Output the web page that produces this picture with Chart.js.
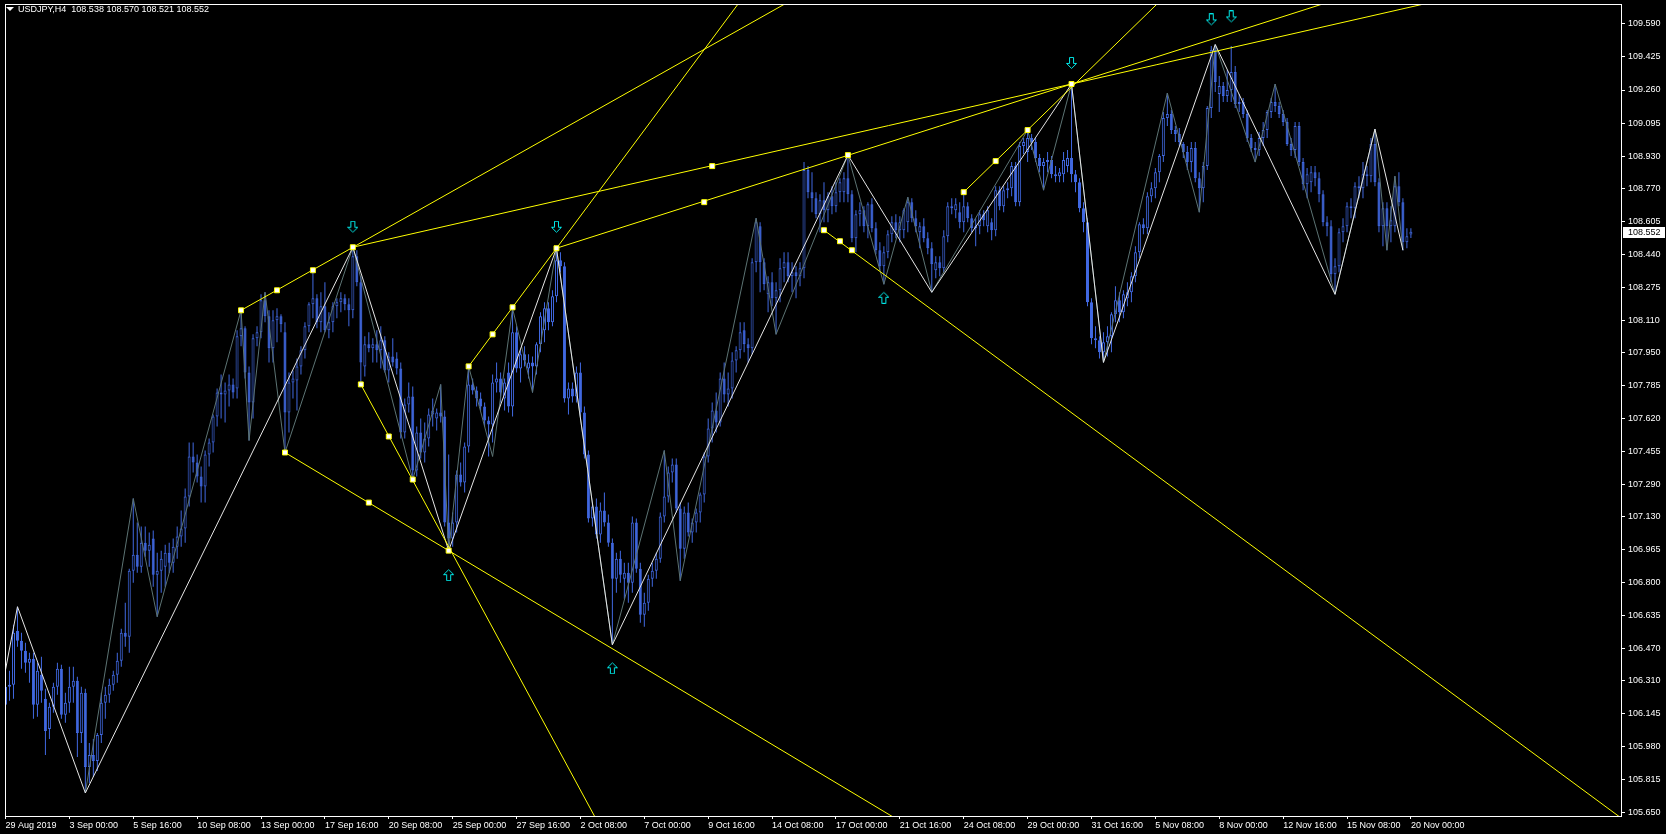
<!DOCTYPE html>
<html lang="en">
<head>
    <meta charset="UTF-8">
    <title>USDJPY,H4</title>
    <script src="https://cdn.jsdelivr.net/npm/chart.js"></script>
    <style>
        body { margin: 0; background: #000; }
        .wrap { position: relative; width: 1666px; height: 834px; }
        .hdr {
            position: absolute; left: 6px; top: 4px;
            color: #fff; font: 9px 'Liberation Sans', Arial, sans-serif;
            line-height: 11px; white-space: pre;
        }
        .hdr .tri {
            display: inline-block; width: 0; height: 0;
            border-left: 4px solid transparent; border-right: 4px solid transparent;
            border-top: 4px solid #fff; margin-right: 4px; vertical-align: 1px;
        }
    </style>
</head>
<body>
<div class="wrap">
    <canvas id="chart" width="1666" height="834"></canvas>
    <div class="hdr" id="hdr"></div>
</div>

<script>
    const symbolTitle = 'USDJPY,H4';

    // H4 bars, one row per bar: open, high, low, close
    const ohlc = [
        [106.19,106.38,105.87,106.28],[106.28,106.36,106.21,106.29],[106.29,106.59,106.22,106.55],[106.56,106.68,106.48,106.51],[106.51,106.55,106.37,106.46],[106.46,106.50,106.35,106.40],[106.40,106.45,106.30,106.42],[106.42,106.45,106.12,106.19],[106.19,106.40,106.13,106.36],[106.34,106.43,106.20,106.26],
        [106.22,106.27,105.94,106.06],[106.07,106.20,106.02,106.18],[106.18,106.30,106.15,106.28],[106.28,106.40,106.24,106.37],[106.37,106.39,106.12,106.14],[106.14,106.25,106.10,106.20],[106.20,106.38,106.15,106.28],[106.28,106.38,106.20,106.31],[106.31,106.33,105.93,106.05],[106.05,106.28,106.00,106.25],
        [106.25,106.27,105.75,105.88],[105.88,106.00,105.80,105.94],[105.94,106.02,105.83,105.91],[105.91,106.05,105.86,106.04],[106.04,106.25,106.00,106.20],[106.20,106.28,106.12,106.24],[106.24,106.32,106.20,106.29],[106.29,106.36,106.26,106.34],[106.34,106.45,106.30,106.41],[106.41,106.57,106.38,106.55],
        [106.55,106.70,106.48,106.53],[106.53,106.87,106.45,106.86],[106.86,107.22,106.80,106.94],[106.94,107.10,106.85,106.88],[106.88,107.08,106.85,107.00],[107.00,107.08,106.93,106.96],[106.96,107.05,106.88,106.99],[107.02,107.06,106.78,106.84],[106.84,106.95,106.63,106.86],[106.86,106.96,106.75,106.92],
        [106.88,106.99,106.78,106.95],[106.95,107.00,106.85,106.90],[106.90,107.02,106.85,106.98],[106.98,107.08,106.92,107.03],[107.03,107.16,106.98,107.07],[107.07,107.27,107.00,107.23],[107.23,107.50,107.18,107.43],[107.43,107.50,107.35,107.40],[107.40,107.44,107.30,107.33],[107.33,107.38,107.20,107.28],
        [107.28,107.46,107.20,107.44],[107.44,107.52,107.38,107.50],[107.50,107.64,107.45,107.63],[107.63,107.77,107.58,107.75],[107.75,107.84,107.62,107.74],[107.74,107.80,107.60,107.76],[107.76,107.84,107.68,107.79],[107.79,107.82,107.72,107.75],[107.77,108.06,107.72,108.03],[108.03,108.16,107.98,108.07],
        [108.07,108.08,107.82,107.85],[107.85,107.88,107.51,107.70],[107.70,108.04,107.62,108.02],[108.02,108.08,107.98,108.05],[108.05,108.24,108.02,108.21],[108.21,108.25,108.10,108.13],[108.13,108.16,107.90,107.97],[107.97,108.16,107.90,108.11],[108.11,108.17,108.00,108.13],[108.13,108.14,108.05,108.09],
        [108.05,108.10,107.45,107.65],[107.65,107.85,107.55,107.80],[107.80,107.86,107.72,107.82],[107.81,107.92,107.66,107.88],[107.88,107.98,107.84,107.96],[107.96,108.10,107.92,108.08],[108.08,108.20,108.05,108.19],[108.19,108.36,108.12,108.22],[108.22,108.24,108.07,108.10],[108.10,108.25,108.05,108.18],
        [108.18,108.30,108.05,108.06],[108.06,108.15,108.02,108.10],[108.10,108.20,108.05,108.18],[108.18,108.22,108.12,108.20],[108.20,108.25,108.15,108.22],[108.22,108.24,108.16,108.19],[108.19,108.22,108.08,108.16],[108.16,108.475,108.12,108.43],[108.43,108.46,108.28,108.30],[108.30,108.33,107.79,107.90],
        [107.88,108.03,107.83,107.99],[107.99,108.05,107.95,107.97],[107.97,108.02,107.90,107.99],[107.99,108.06,107.90,107.96],[107.96,108.08,107.87,108.01],[108.01,108.03,107.85,107.86],[107.86,107.95,107.80,107.93],[107.93,108.02,107.88,107.90],[107.92,107.95,107.84,107.87],[107.87,107.90,107.52,107.55],
        [107.55,107.72,107.52,107.69],[107.69,107.80,107.65,107.73],[107.73,107.78,107.315,107.36],[107.36,107.58,107.33,107.55],[107.55,107.62,107.42,107.45],[107.45,107.60,107.40,107.52],[107.52,107.67,107.48,107.64],[107.64,107.72,107.58,107.66],[107.62,107.67,107.56,107.65],[107.65,107.79,107.60,107.63],
        [107.63,107.66,107.08,107.10],[107.10,107.44,106.96,107.02],[107.02,107.15,106.98,107.10],[107.10,107.36,107.05,107.34],[107.34,107.40,107.28,107.30],[107.30,107.50,107.25,107.48],[107.48,107.88,107.45,107.79],[107.79,107.82,107.74,107.76],[107.76,107.78,107.68,107.72],[107.72,107.75,107.66,107.68],
        [107.68,107.70,107.58,107.61],[107.61,107.63,107.43,107.59],[107.59,107.84,107.50,107.80],[107.80,107.90,107.75,107.82],[107.82,107.85,107.70,107.75],[107.72,107.82,107.66,107.80],[107.85,107.90,107.65,107.68],[107.68,108.17,107.63,108.05],[108.05,108.08,107.85,107.87],[107.87,107.96,107.80,107.94],
        [107.94,107.98,107.88,107.91],[107.87,107.94,107.82,107.90],[107.90,107.93,107.75,107.88],[107.88,108.00,107.84,107.99],[107.99,108.15,107.95,108.13],[108.06,108.20,108.00,108.17],[108.17,108.20,108.06,108.10],[108.10,108.26,108.08,108.23],[108.23,108.47,108.20,108.41],[108.41,108.45,108.35,108.38],
        [108.38,108.40,107.70,107.72],[107.72,107.80,107.64,107.77],[107.77,107.80,107.70,107.73],[107.73,107.88,107.70,107.85],[107.85,107.90,107.63,107.65],[107.65,107.68,107.42,107.44],[107.44,107.46,107.10,107.12],[107.12,107.20,107.08,107.18],[107.18,107.22,107.02,107.04],[107.04,107.20,107.00,107.16],
        [107.16,107.25,107.08,107.10],[107.10,107.14,106.98,107.00],[107.00,107.02,106.49,106.82],[106.82,106.95,106.75,106.92],[106.92,106.96,106.80,106.84],[106.82,106.90,106.72,106.85],[106.85,106.90,106.70,106.80],[106.80,107.13,106.75,107.10],[107.10,107.12,106.85,106.87],[106.87,106.90,106.60,106.64],
        [106.64,106.75,106.58,106.70],[106.70,106.84,106.66,106.82],[106.82,106.90,106.78,106.86],[106.86,106.95,106.82,106.92],[106.92,107.15,106.90,107.13],[107.13,107.46,107.10,107.23],[107.23,107.38,107.20,107.35],[107.35,107.42,107.30,107.39],[107.39,107.42,107.15,107.17],[107.17,107.20,106.81,106.97],
        [106.97,107.18,106.92,107.15],[107.15,107.20,107.03,107.05],[107.05,107.12,107.00,107.10],[107.10,107.17,107.05,107.15],[107.15,107.25,107.10,107.24],[107.24,107.45,107.20,107.43],[107.43,107.62,107.40,107.57],[107.57,107.70,107.50,107.66],[107.66,107.75,107.55,107.60],[107.60,107.85,107.58,107.82],
        [107.82,107.90,107.70,107.74],[107.74,107.85,107.68,107.77],[107.77,107.95,107.72,107.91],[107.91,107.98,107.85,107.96],[107.96,108.10,107.92,108.05],[108.06,108.10,107.95,107.99],[107.99,108.02,107.90,107.97],[107.97,108.42,107.94,108.40],[108.40,108.62,108.35,108.60],[108.58,108.60,108.25,108.40],
        [108.40,108.42,108.26,108.29],[108.24,108.33,108.15,108.30],[108.30,108.35,108.18,108.22],[108.22,108.30,108.04,108.26],[108.26,108.42,108.20,108.37],[108.37,108.45,108.30,108.40],[108.40,108.45,108.30,108.33],[108.33,108.40,108.25,108.35],[108.35,108.38,108.22,108.33],[108.33,108.40,108.28,108.37],
        [108.37,108.90,108.32,108.86],[108.86,108.88,108.72,108.75],[108.75,108.85,108.65,108.72],[108.72,108.75,108.62,108.64],[108.64,108.74,108.55,108.71],[108.71,108.80,108.60,108.66],[108.66,108.75,108.60,108.73],[108.73,108.78,108.64,108.68],[108.68,108.80,108.65,108.75],[108.75,108.82,108.70,108.80],
        [108.75,108.85,108.70,108.82],[108.82,108.935,108.70,108.74],[108.74,108.76,108.50,108.52],[108.52,108.66,108.45,108.64],[108.64,108.70,108.58,108.66],[108.66,108.68,108.55,108.58],[108.58,108.70,108.52,108.69],[108.69,108.72,108.55,108.57],[108.57,108.60,108.44,108.46],[108.46,108.50,108.36,108.38],
        [108.38,108.48,108.29,108.45],[108.45,108.56,108.42,108.54],[108.54,108.63,108.50,108.60],[108.60,108.64,108.52,108.56],[108.56,108.63,108.50,108.60],[108.56,108.67,108.52,108.66],[108.60,108.725,108.55,108.70],[108.70,108.72,108.60,108.62],[108.62,108.66,108.55,108.58],[108.55,108.60,108.47,108.58],
        [108.58,108.62,108.50,108.52],[108.52,108.55,108.44,108.47],[108.47,108.50,108.25,108.39],[108.36,108.43,108.32,108.40],[108.40,108.43,108.33,108.37],[108.37,108.56,108.35,108.53],[108.53,108.70,108.50,108.68],[108.68,108.72,108.64,108.67],[108.66,108.72,108.62,108.69],[108.65,108.70,108.57,108.60],
        [108.60,108.75,108.55,108.68],[108.68,108.70,108.60,108.62],[108.62,108.64,108.55,108.57],[108.57,108.62,108.48,108.58],[108.58,108.66,108.54,108.64],[108.64,108.66,108.58,108.61],[108.58,108.68,108.55,108.66],[108.60,108.62,108.51,108.56],[108.56,108.78,108.53,108.76],[108.76,108.78,108.66,108.68],
        [108.68,108.78,108.65,108.76],[108.76,108.80,108.72,108.77],[108.77,108.90,108.73,108.88],[108.88,108.90,108.68,108.70],[108.70,109.00,108.68,108.98],[108.98,109.02,108.94,109.00],[108.95,109.06,108.90,109.02],[109.02,109.04,108.96,109.00],[109.00,109.02,108.90,108.92],[108.92,108.94,108.85,108.88],
        [108.88,108.92,108.76,108.90],[108.90,108.95,108.85,108.91],[108.91,108.93,108.82,108.84],[108.84,108.88,108.80,108.83],[108.83,108.87,108.80,108.85],[108.84,108.95,108.80,108.91],[108.88,108.96,108.85,108.92],[108.92,109.29,108.80,108.84],[108.84,108.86,108.75,108.80],[108.80,108.82,108.65,108.67],
        [108.67,108.70,108.55,108.60],[108.60,108.62,108.18,108.20],[108.20,108.22,107.99,108.02],[108.02,108.08,107.97,108.01],[108.01,108.03,107.92,107.95],[107.95,108.05,107.90,108.00],[108.00,108.08,107.93,108.03],[108.03,108.15,107.95,108.14],[108.14,108.28,108.10,108.21],[108.21,108.25,108.10,108.15],
        [108.15,108.26,108.12,108.24],[108.22,108.30,108.18,108.25],[108.25,108.35,108.20,108.33],[108.33,108.48,108.30,108.45],[108.45,108.60,108.42,108.59],[108.59,108.62,108.54,108.57],[108.57,108.75,108.54,108.73],[108.73,108.80,108.70,108.77],[108.77,108.87,108.72,108.85],[108.85,108.94,108.80,108.93],
        [108.93,109.15,108.90,109.12],[109.12,109.245,109.08,109.14],[109.14,109.16,109.04,109.06],[109.06,109.08,109.00,109.04],[109.04,109.07,108.98,109.00],[108.99,109.00,108.92,108.95],[108.95,108.98,108.86,108.90],[108.90,109.00,108.85,108.97],[108.97,109.00,108.80,108.82],[108.82,108.85,108.65,108.77],
        [108.77,108.90,108.70,108.88],[108.88,109.18,108.86,109.17],[109.17,109.48,109.12,109.46],[109.46,109.487,109.25,109.30],[109.24,109.33,109.15,109.28],[109.28,109.30,109.20,109.23],[109.23,109.36,109.20,109.26],[109.26,109.48,109.20,109.35],[109.35,109.38,109.17,109.19],[109.19,109.24,109.15,109.20],
        [109.20,109.22,109.12,109.14],[109.14,109.16,109.00,109.02],[109.02,109.04,108.95,108.97],[108.97,109.00,108.90,108.96],[108.96,109.05,108.93,109.02],[109.02,109.10,108.98,109.06],[109.06,109.16,109.02,109.15],[109.15,109.22,109.12,109.20],[109.20,109.29,109.15,109.18],[109.18,109.20,109.12,109.14],
        [109.14,109.16,109.08,109.10],[109.10,109.12,108.98,108.99],[108.99,109.02,108.93,108.96],[108.96,109.10,108.92,109.08],[109.08,109.10,108.88,108.90],[108.90,108.92,108.76,108.79],[108.79,108.87,108.72,108.84],[108.80,108.88,108.75,108.85],[108.85,108.88,108.78,108.82],[108.82,108.85,108.70,108.74],
        [108.74,108.76,108.58,108.60],[108.60,108.63,108.53,108.58],[108.58,108.61,108.30,108.34],[108.34,108.42,108.24,108.38],[108.38,108.57,108.35,108.55],[108.55,108.62,108.50,108.58],[108.58,108.70,108.55,108.68],[108.68,108.72,108.62,108.67],[108.67,108.80,108.62,108.78],[108.78,108.83,108.72,108.77],
        [108.77,108.90,108.72,108.84],[108.84,108.88,108.78,108.83],[108.83,109.02,108.80,108.99],[108.99,109.065,108.78,108.80],[108.80,108.82,108.55,108.58],[108.58,108.70,108.48,108.67],[108.67,108.70,108.46,108.58],[108.58,108.68,108.50,108.61],[108.58,108.83,108.55,108.78],[108.78,108.85,108.68,108.70],
        [108.70,108.72,108.46,108.50],[108.50,108.57,108.47,108.53],[108.538,108.570,108.521,108.552]
    ];

    const timeTickBars = [0,16,32,48,64,80,96,112,128,144,160,176,192,208,224,240,256,272,288,304,320,336,352];
    const timeLabels = ['29 Aug 2019','3 Sep 00:00','5 Sep 16:00','10 Sep 08:00','13 Sep 00:00','17 Sep 16:00','20 Sep 08:00',
        '25 Sep 00:00','27 Sep 16:00','2 Oct 08:00','7 Oct 00:00','9 Oct 16:00','14 Oct 08:00','17 Oct 00:00','21 Oct 16:00',
        '24 Oct 08:00','29 Oct 00:00','31 Oct 16:00','5 Nov 08:00','8 Nov 00:00','12 Nov 16:00','15 Nov 08:00','20 Nov 00:00'];
    const priceTicks = [109.590,109.425,109.260,109.095,108.930,108.770,108.605,108.440,108.275,108.110,107.950,107.785,107.620,
        107.455,107.290,107.130,106.965,106.800,106.635,106.470,106.310,106.145,105.980,105.815,105.650];

    // zigzag swing points (bar index, price)
    const zigzagMajorBars = [-3,3,20,87,111,138,152,211,232,267,275,303,333,343,350];
    const zigzagMajorPrices = [106.05,106.68,105.75,108.475,106.96,108.47,106.49,108.935,108.25,109.29,107.90,109.487,108.24,109.065,108.46];
    const zigzagMinorBars = [20,32,38,59,61,65,70,87,102,109,111,116,122,127,132,138,152,165,169,188,193,211,220,226,232,256,260,267,275,291,299,303,313,318,333,343,346,348,350];
    const zigzagMinorPrices = [105.75,107.22,106.63,108.16,107.51,108.25,107.45,108.475,107.315,107.79,106.96,107.88,107.43,108.17,107.75,108.47,106.49,107.46,106.81,108.62,108.04,108.935,108.29,108.725,108.25,109.06,108.76,109.29,107.90,109.245,108.65,109.487,108.90,109.29,108.24,109.065,108.46,108.83,108.46];

    // trend lines: start bar, start price, end bar, end price
    const trendLines = [
        [59,108.16,197,109.71],
        [87,108.475,362,109.72],
        [138,108.47,332,109.703],
        [116,107.88,185,109.73],
        [89,107.79,149,105.58],
        [70,107.45,224,105.61],
        [205,108.56,405,105.62],
        [240,108.75,290,109.72]
    ];
    const markerBars = [59,68,77,87,70,91,89,96,102,111,116,122,127,138,175,177,205,209,212,211,240,248,256,267];
    const markerPrices = [108.16,108.26,108.36,108.475,107.45,107.20,107.79,107.53,107.315,106.96,107.88,108.04,108.175,108.47,108.70,108.88,108.56,108.505,108.46,108.935,108.75,108.905,109.06,109.29];

    const arrowDownBars = [87,138,267,302,307];
    const arrowDownPrices = [108.575,108.575,109.393,109.61,109.625];
    const arrowUpBars = [111,152,220];
    const arrowUpPrices = [106.84,106.375,108.225];

    const BLUE = '#4169e1';
    const YELLOW = '#ffff00';

    const last = ohlc[ohlc.length - 1];
    document.getElementById('hdr').innerHTML =
        '<span class="tri"></span>' + symbolTitle + '  ' + last.map(v => v.toFixed(3)).join(' ');

    const pts = (xs, ys) => xs.map((x, i) => ({ x: x, y: ys[i] }));
    const wicks = ohlc.map((b, i) => ({ x: i, y: [b[2], b[1]] }));
    const bodies = ohlc.map((b, i) => ({ x: i, y: [Math.min(b[0], b[3]), Math.max(b[0], b[3])] }));
    const bodyFill = ohlc.map(b => b[3] >= b[0] ? '#000000' : BLUE);
    const trendData = [];
    trendLines.forEach(t => {
        trendData.push({ x: t[0], y: t[1] }, { x: t[2], y: t[3] }, { x: t[2], y: null });
    });

    function arrowImage(down) {
        const c = document.createElement('canvas');
        c.width = 11; c.height = 13;
        const g = c.getContext('2d');
        if (!down) { g.translate(0, 13); g.scale(1, -1); }
        g.beginPath();
        g.moveTo(3.5, 0.5); g.lineTo(7.5, 0.5); g.lineTo(7.5, 6.5); g.lineTo(10.5, 6.5);
        g.lineTo(5.5, 11.5); g.lineTo(0.5, 6.5); g.lineTo(3.5, 6.5); g.closePath();
        g.fillStyle = '#000'; g.fill();
        g.strokeStyle = '#00e8e8'; g.lineWidth = 1; g.stroke();
        return c;
    }

    // white frame round the plot and the current price tag
    const frame = {
        id: 'frame',
        afterDraw(chart) {
            const { ctx, chartArea: a } = chart;
            ctx.save();
            ctx.strokeStyle = '#ffffff';
            ctx.lineWidth = 1;
            ctx.strokeRect(a.left + 0.5, a.top - 0.5, a.right - a.left - 1, a.bottom - a.top + 1);
            const y = Math.round(chart.scales.y.getPixelForValue(last[3]));
            ctx.fillStyle = '#ffffff';
            ctx.fillRect(a.right + 1, y - 5, 42, 11);
            ctx.fillStyle = '#000000';
            ctx.font = "9px 'Liberation Sans', Arial, sans-serif";
            ctx.textBaseline = 'middle';
            ctx.fillText(last[3].toFixed(3), a.right + 6, y + 0.5);
            ctx.restore();
        }
    };

    Chart.defaults.font.family = "'Liberation Sans', Arial, sans-serif";
    Chart.defaults.font.size = 9;
    Chart.defaults.color = '#ffffff';

    new Chart(document.getElementById('chart'), {
        type: 'bar',
        data: {
            datasets: [
                { type: 'line', data: pts(arrowDownBars, arrowDownPrices), showLine: false, pointStyle: arrowImage(true), pointRadius: 3, order: 0 },
                { type: 'line', data: pts(arrowUpBars, arrowUpPrices), showLine: false, pointStyle: arrowImage(false), pointRadius: 3, order: 0 },
                { type: 'line', data: pts(markerBars, markerPrices), showLine: false, pointStyle: 'rect', pointRadius: 3.5,
                  pointBorderWidth: 1, pointBorderColor: YELLOW, pointBackgroundColor: '#ffffff', order: 1 },
                { type: 'line', data: trendData, borderColor: YELLOW, borderWidth: 1, pointRadius: 0, spanGaps: false, order: 2 },
                { type: 'line', data: pts(zigzagMajorBars, zigzagMajorPrices), borderColor: '#e6e6e6', borderWidth: 1, pointRadius: 0, order: 3 },
                { type: 'line', data: pts(zigzagMinorBars, zigzagMinorPrices), borderColor: '#5c7373', borderWidth: 1, pointRadius: 0, order: 4 },
                { type: 'bar', data: bodies, barThickness: 3, borderWidth: 1, borderColor: BLUE, backgroundColor: bodyFill,
                  borderSkipped: false, grouped: false, inflateAmount: 0, order: 5 },
                { type: 'bar', data: wicks, barThickness: 1, borderWidth: 0, backgroundColor: BLUE,
                  grouped: false, inflateAmount: 0, order: 6 }
            ]
        },
        options: {
            responsive: false,
            animation: false,
            events: [],
            devicePixelRatio: 1,
            layout: { padding: { left: 2, top: 2, right: 0, bottom: 0 } },
            plugins: { legend: { display: false }, tooltip: { enabled: false } },
            scales: {
                x: {
                    type: 'linear', min: -0.125, max: 404.875, offset: false,
                    grid: { offset: false, drawOnChartArea: false, drawTicks: true, tickLength: 3, color: '#ffffff' },
                    border: { display: false },
                    ticks: { autoSkip: false, maxRotation: 0, minRotation: 0, align: 'start', padding: 1,
                             callback: (v, i) => timeLabels[i] },
                    afterBuildTicks: s => { s.ticks = timeTickBars.map(v => ({ value: v })); },
                    afterFit: s => { s.height = 18; s.paddingLeft = 0; s.paddingRight = 0; }
                },
                y: {
                    type: 'linear', position: 'right', min: 105.635, max: 109.6845,
                    grid: { drawOnChartArea: false, drawTicks: true, tickLength: 3, color: '#ffffff' },
                    border: { display: false },
                    ticks: { autoSkip: false, padding: 3, callback: v => v.toFixed(3) },
                    afterBuildTicks: s => { s.ticks = priceTicks.map(v => ({ value: v })); },
                    afterFit: s => { s.width = 44; s.paddingTop = 0; s.paddingBottom = 0; }
                }
            }
        },
        plugins: [frame]
    });
</script>
</body>
</html>
